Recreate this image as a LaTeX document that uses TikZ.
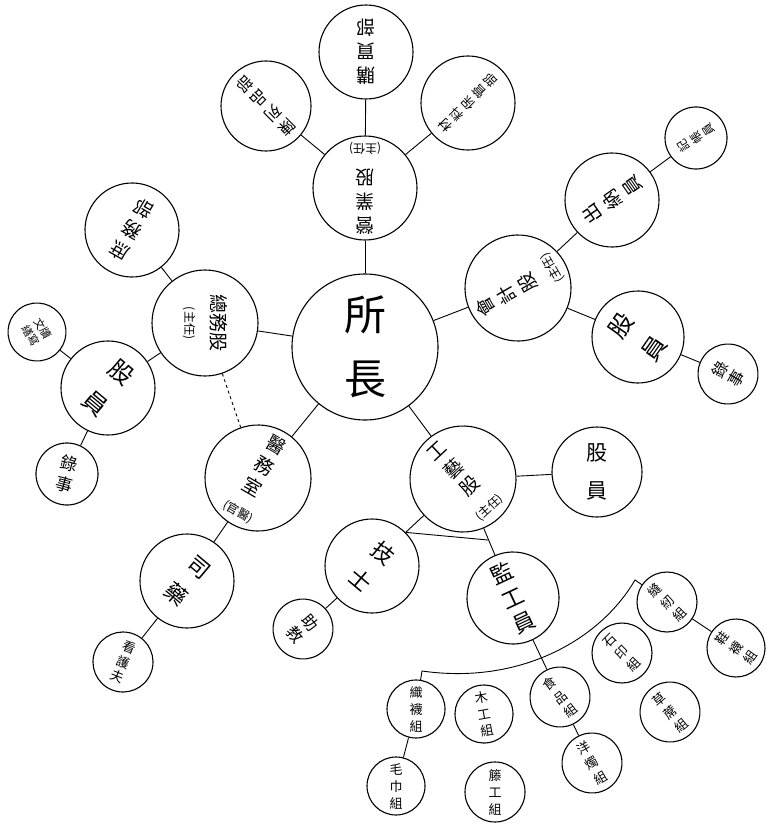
\documentclass[tikz,border=0pt]{standalone}
\usepackage{fontspec}
\setmainfont{Noto Sans CJK TC}
\begin{document}
\begin{tikzpicture}[x=1pt,y=-1pt,
  org/.style={circle,draw,line width=1.1pt,inner sep=0pt,align=center},
  dia/.style={minimum size=#1pt},
  tm/.style={font=\fontsize{19}{24}\selectfont},
  tsm/.style={font=\fontsize{13}{17}\selectfont},
  lnk/.style={line width=0.9pt}]
\fill[white] (0,0) rectangle (766,824);
\useasboundingbox (0,0) rectangle (766,824);
\newcommand\zr[1]{{\fontsize{12}{14}\selectfont(#1)}}
% centre
\node[org,dia=146,font=\fontsize{42}{64}\selectfont] (sz) at (365,347) {所\\長};
% top branch
\node[org,dia=104,tm,rotate=180] (yy) at (365,188) {營\\業\\股\\[2pt]\zr{主任}};
\node[org,dia=90,font=\fontsize{16}{20}\selectfont,rotate=225] (cl1) at (266,106) {陳\\列\\品\\部};
\node[org,dia=94,tm,rotate=180] (gm) at (366,52) {購\\買\\部};
\node[org,dia=94,font=\fontsize{13}{16}\selectfont,rotate=135] (cl2) at (468,103) {材\\料\\保\\管\\部};
% right branch
\node[org,dia=106,tm,rotate=120] (kj) at (518,288) {會\\計\\股\\[2pt]\zr{主任}};
\node[org,dia=94,tm,rotate=125] (cn) at (612,200) {出\\納\\員};
\node[org,dia=62,font=\fontsize{12}{15}\selectfont,rotate=122] (jz) at (696,138) {記\\帳\\員};
\node[org,dia=92,font=\fontsize{24}{40}\selectfont,rotate=55] (gyr) at (638,337) {股\\員};
\node[org,dia=60,font=\fontsize{16}{19}\selectfont,rotate=60] (lsr) at (728,374) {錄\\事};
% left branch
\node[org,dia=106,tm,rotate=-90] (zw) at (205,323) {總務股\\[2pt]\zr{主任}};
\node[org,dia=94,tm,rotate=150] (sw) at (132,230) {庶\\務\\部};
\node[org,dia=94,font=\fontsize{24}{40}\selectfont,rotate=-40] (gyl) at (108,388) {股\\員};
\node[org,dia=58,font=\fontsize{11}{14}\selectfont,rotate=-60] (wd) at (37,332) {文牘\\繕寫};
\node[org,dia=62,font=\fontsize{17}{21}\selectfont,rotate=-15] (lsl) at (67,474) {錄\\事};
% lower-left branch
\node[org,dia=106,tm,rotate=-30] (yw) at (258,478) {醫\\務\\室\\[2pt]\zr{官醫}};
\node[org,dia=94,font=\fontsize{22}{36}\selectfont,rotate=-40] (sy) at (187,581) {司\\藥};
\node[org,dia=60,font=\fontsize{13}{16}\selectfont,rotate=-22] (khf) at (123,662) {看\\護\\夫};
% lower-right branch
\node[org,dia=106,tm,rotate=43] (gyg) at (463,479) {工\\藝\\股\\[2pt]\zr{主任}};
\node[org,dia=90,font=\fontsize{21}{38}\selectfont] (gyb) at (597,472) {股\\員};
\node[org,dia=94,font=\fontsize{22}{36}\selectfont,rotate=-40] (js) at (372,566) {技\\士};
\node[org,dia=60,font=\fontsize{16}{19}\selectfont,rotate=-50] (zj) at (303,629) {助\\教};
\node[org,dia=92,font=\fontsize{22}{27}\selectfont,rotate=25] (jg) at (513,598) {監\\工\\員};
% groups
\node[org,dia=58,tsm] (zwz) at (416,709) {織\\襪\\組};
\node[org,dia=58,tsm] (mj) at (396,786) {毛\\巾\\組};
\node[org,dia=58,tsm,rotate=10] (mg) at (484,714) {木\\工\\組};
\node[org,dia=60,tsm] (tg) at (495,792) {籐\\工\\組};
\node[org,dia=60,tsm,rotate=38] (sp) at (560,697) {食\\品\\組};
\node[org,dia=60,tsm,rotate=30] (yz) at (592,763) {洋\\燭\\組};
\node[org,dia=60,tsm,rotate=45] (sy2) at (622,653) {石\\印\\組};
\node[org,dia=60,tsm,rotate=40] (cx) at (670,712) {草\\蓆\\組};
\node[org,dia=60,tsm,rotate=45] (fr) at (667,602) {縫\\紉\\組};
\node[org,dia=58,tsm,rotate=55] (xw) at (736,648) {鞋\\襪\\組};
% connectors
\coordinate (jt) at (488,540);
\coordinate (b1) at (422,671);
\coordinate (b2) at (635,580);
\draw[lnk] (sz) -- (yy);
\draw[lnk] (sz) -- (zw);
\draw[lnk] (sz) -- (kj);
\draw[lnk] (sz) -- (yw);
\draw[lnk] (sz) -- (gyg);
\draw[lnk] (yy) -- (cl1);
\draw[lnk] (yy) -- (gm);
\draw[lnk] (yy) -- (cl2);
\draw[lnk] (kj) -- (cn);
\draw[lnk] (cn) -- (jz);
\draw[lnk] (kj) -- (gyr);
\draw[lnk] (gyr) -- (lsr);
\draw[lnk] (zw) -- (sw);
\draw[lnk] (zw) -- (gyl);
\draw[lnk] (gyl) -- (wd);
\draw[lnk] (gyl) -- (lsl);
\draw[lnk,dashed] (zw) -- (yw);
\draw[lnk] (yw) -- (sy);
\draw[lnk] (sy) -- (khf);
\draw[lnk] (gyg) -- (gyb);
\draw[lnk] (gyg) -- (jg);
\draw[lnk] (js.85) -- (gyg);
\draw[lnk] (js.85) -- (jt);
\draw[lnk] (js) -- (zj);
\draw[lnk] (jg) -- (sp);
\draw[lnk] (zwz) -- (mj);
\draw[lnk] (sp) -- (yz);
\draw[lnk] (fr) -- (xw);
\draw[lnk] (zwz) -- (b1) .. controls (520,685) and (600,640) .. (b2) -- (fr);
\end{tikzpicture}
\end{document}
